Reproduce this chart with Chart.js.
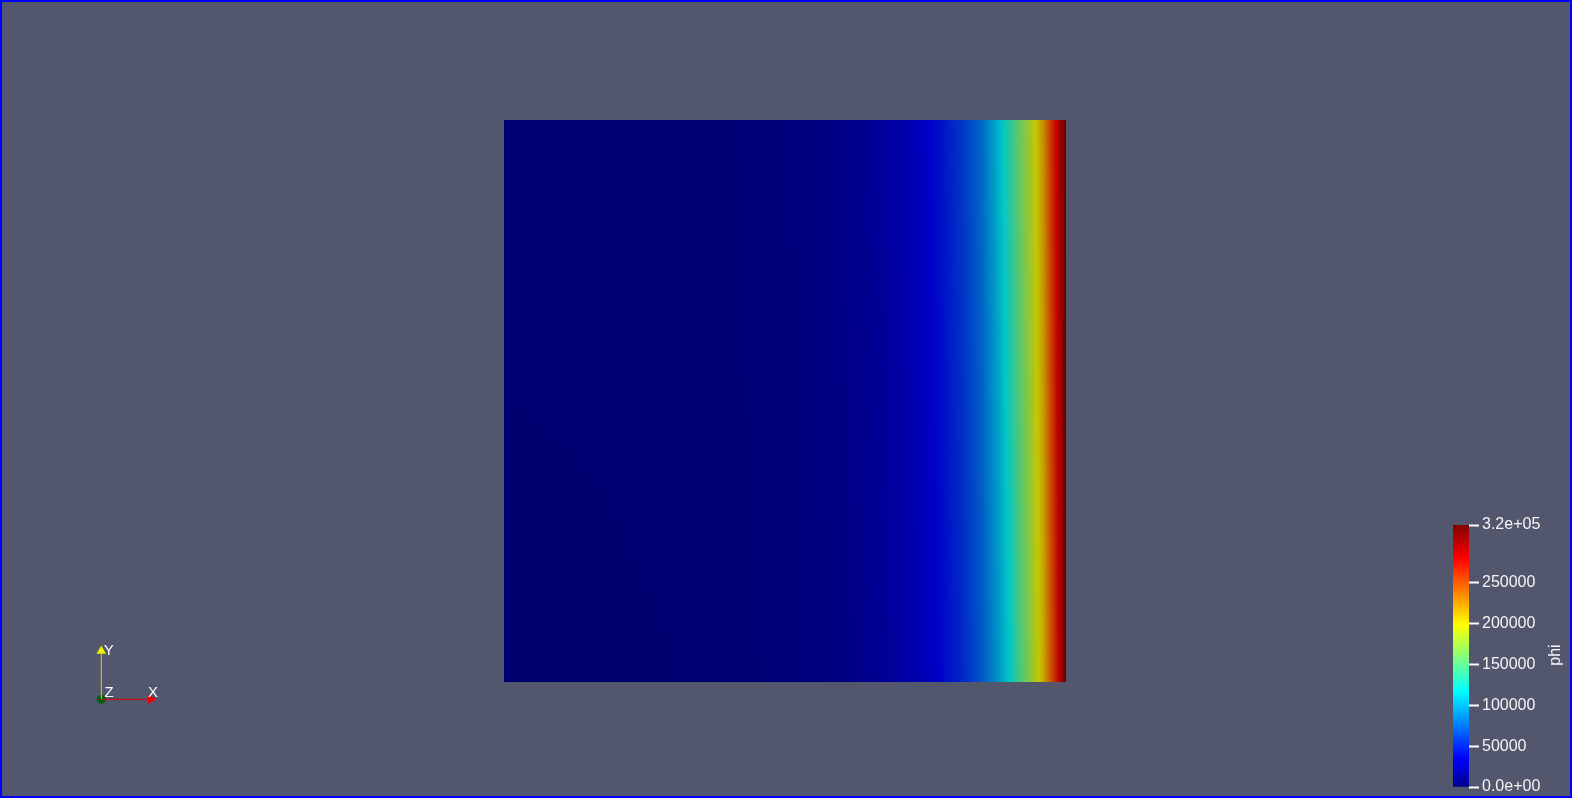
<!DOCTYPE html>
<html><head><meta charset="utf-8">
<script src="https://cdn.jsdelivr.net/npm/chart.js@4.4.1/dist/chart.umd.min.js"></script>
<style>
html,body{margin:0;padding:0;background:#ffffff;width:1574px;height:800px;overflow:hidden}
#view{position:absolute;left:0;top:0;width:1572px;height:798px;box-sizing:border-box;border:2px solid #0000ff;background:#52576e}
canvas{position:absolute}
#field{left:504px;top:120px}
#bar{left:1440px;top:500px}
#triad{left:80px;top:630px}
</style></head><body>
<div id="view"></div>
<canvas id="field" width="562" height="562"></canvas>
<canvas id="bar" width="132" height="300"></canvas>
<canvas id="triad" width="100" height="80"></canvas>
<script>
// ---- data ----
const xSamples  = [0, 0.1, 0.2, 0.3, 0.4, 0.5, 0.55, 0.6, 0.65, 0.7, 0.74, 0.78, 0.82, 0.85, 0.88, 0.9, 0.92, 0.94, 0.96, 0.98, 1.0];
const phiTop    = [1300, 1400, 1500, 1700, 2300, 4200, 6400, 9700, 14700, 22300, 31200, 43500, 60500, 78500, 109000, 134000, 163000, 188000, 224000, 275000, 321000];
const phiBottom = [0, 100, 300, 600, 1300, 3200, 5000, 7800, 12100, 18800, 26900, 38200, 54000, 71000, 96400, 118000, 149000, 178000, 212000, 262000, 321000];
const phiMin = 0;
const phiMax = 321000;
const barTicks = [0, 50000, 100000, 150000, 200000, 250000, 321000];
const fieldName = 'phi';
const triadLabels = ['X', 'Y', 'Z'];

// ---- colormap (ParaView "Jet") ----
const jetT = [0, 0.111111, 0.365079, 0.492063, 0.619048, 0.873016, 1];
const jetC = [[0,0,0.5625],[0,0,1],[0,1,1],[0.5,1,0.5],[1,1,0],[1,0,0],[0.5,0,0]];
const SHADE = 0.78;
function jet(t, k) {
  t = Math.max(0, Math.min(1, t));
  let i = 0;
  while (i < jetT.length - 2 && t > jetT[i + 1]) i++;
  const f = (t - jetT[i]) / (jetT[i + 1] - jetT[i]);
  const c = jetC[i].map((v, j) => (v + (jetC[i + 1][j] - v) * f) * 255 * k);
  return 'rgb(' + c.map(v => Math.round(v)).join(',') + ')';
}
function sci(v) {
  if (v === 0) return '0.0e+00';
  const e = Math.floor(Math.log10(Math.abs(v)));
  const m = v / Math.pow(10, e);
  return m.toFixed(1) + 'e' + (e < 0 ? '-' : '+') + String(Math.abs(e)).padStart(2, '0');
}
Chart.defaults.font.family = 'Liberation Sans, Arial, sans-serif';
Chart.defaults.animation = false;

// ---- field ----
const NSTRIPS = 64, SUB = 8;
const strips = Array.from({length: NSTRIPS}, (_, i) => i);
new Chart(document.getElementById('field'), {
  type: 'bar',
  data: {
    labels: strips,
    datasets: [{
      data: strips.map(() => [xSamples[0], xSamples[xSamples.length - 1]]),
      barPercentage: 1.1, categoryPercentage: 1, borderWidth: 0, clip: 0,
      backgroundColor: (ctx) => {
        const chart = ctx.chart;
        if (!chart.chartArea || ctx.dataIndex === undefined) return '#000070';
        const xs = chart.scales.x;
        const p0 = xs.getPixelForValue(xSamples[0]);
        const p1 = xs.getPixelForValue(xSamples[xSamples.length - 1]);
        const g = chart.ctx.createLinearGradient(p0, 0, p1, 0);
        const t = (ctx.dataIndex + 0.5) / NSTRIPS;
        const phi = phiTop.map((v, j) => v * (1 - t) + phiBottom[j] * t);
        for (let j = 0; j < xSamples.length - 1; j++) {
          for (let s = 0; s < SUB; s++) {
            const f = s / SUB;
            const x = xSamples[j] + (xSamples[j + 1] - xSamples[j]) * f;
            const v = phi[j] + (phi[j + 1] - phi[j]) * f;
            const off = (xs.getPixelForValue(x) - p0) / (p1 - p0);
            g.addColorStop(Math.max(0, Math.min(1, off)), jet((v - phiMin) / (phiMax - phiMin), SHADE));
          }
        }
        g.addColorStop(1, jet((phi[phi.length - 1] - phiMin) / (phiMax - phiMin), SHADE));
        return g;
      }
    }]
  },
  options: {
    indexAxis: 'y', responsive: false, animation: false,
    layout: {padding: 0, autoPadding: false},
    plugins: {legend: {display: false}, tooltip: {enabled: false}},
    scales: {
      x: {type: 'linear', display: false, min: xSamples[0], max: xSamples[xSamples.length - 1]},
      y: {type: 'category', display: false}
    }
  }
});

// ---- colour bar ----
new Chart(document.getElementById('bar'), {
  type: 'bar',
  data: {
    labels: [fieldName],
    datasets: [{
      data: [[phiMin, phiMax]], barPercentage: 1, categoryPercentage: 1, borderWidth: 0,
      backgroundColor: (ctx) => {
        const chart = ctx.chart;
        if (!chart.chartArea) return '#0000ff';
        const ys = chart.scales.y;
        const g = chart.ctx.createLinearGradient(0, ys.getPixelForValue(phiMin), 0, ys.getPixelForValue(phiMax));
        jetT.forEach(t => g.addColorStop(t, jet(t, 1)));
        return g;
      }
    }]
  },
  options: {
    responsive: false, animation: false,
    layout: {padding: {left: 13, right: 0, top: 25, bottom: 13}, autoPadding: false},
    plugins: {legend: {display: false}, tooltip: {enabled: false}},
    scales: {
      x: {display: false},
      y: {
        position: 'right', min: phiMin, max: phiMax,
        afterBuildTicks: (s) => { s.ticks = barTicks.map(v => ({value: v})); },
        afterFit: (s) => { s.width = 103; },
        grid: {drawOnChartArea: false, drawTicks: true, tickLength: 10, tickColor: '#ffffff', tickWidth: 2, color: '#ffffff'},
        border: {display: false},
        ticks: {autoSkip: false, padding: 3, color: '#f4f4f4', font: {size: 16},
          callback: (v) => (v === phiMin || v === phiMax) ? sci(v) : String(v)}
      }
    }
  },
  plugins: [{
    id: 'barTitle',
    afterDraw(chart) {
      const c = chart.ctx;
      c.save();
      c.translate(116, 155);
      c.rotate(-Math.PI / 2);
      c.fillStyle = '#f4f4f4';
      c.font = '16px Liberation Sans, Arial, sans-serif';
      c.textAlign = 'center';
      c.textBaseline = 'middle';
      c.fillText(fieldName, 0, 0);
      c.restore();
    }
  }]
});

// ---- orientation axes ----
new Chart(document.getElementById('triad'), {
  type: 'scatter',
  data: {
    datasets: [
      {data: [{x: 0, y: 0}, {x: 1, y: 0}], showLine: true, borderColor: '#e00000', borderWidth: 1,
       pointStyle: 'triangle', rotation: 90, pointRadius: [0, 5.5], pointBackgroundColor: '#ee0000', pointBorderWidth: 0},
      {data: [{x: 0, y: 0}, {x: 0, y: 1}], showLine: true, borderColor: '#d8d800', borderWidth: 1,
       pointStyle: 'triangle', rotation: 0, pointRadius: [0, 5.5], pointBackgroundColor: '#eeee00', pointBorderWidth: 0},
      {data: [{x: 0, y: 0}], pointStyle: 'circle', pointRadius: 4.5, pointBackgroundColor: '#0c5c10', pointBorderWidth: 0}
    ]
  },
  options: {
    responsive: false, animation: false,
    layout: {padding: 0, autoPadding: false},
    plugins: {legend: {display: false}, tooltip: {enabled: false}},
    scales: {
      x: {type: 'linear', display: false, min: -0.4286, max: 1.5835},
      y: {type: 'linear', display: false, min: -0.2215, max: 1.4348}
    }
  },
  plugins: [{
    id: 'triadLabels',
    afterDatasetsDraw(chart) {
      const c = chart.ctx, xs = chart.scales.x, ys = chart.scales.y;
      c.save();
      c.fillStyle = '#ffffff';
      c.font = '15px Liberation Sans, Arial, sans-serif';
      c.textBaseline = 'middle';
      c.textAlign = 'center';
      c.fillText(triadLabels[0], xs.getPixelForValue(1) + 2, ys.getPixelForValue(0) - 6.3);
      c.textAlign = 'left';
      c.fillText(triadLabels[1], xs.getPixelForValue(0) + 2.5, ys.getPixelForValue(1) - 0.5);
      c.textAlign = 'center';
      c.fillText(triadLabels[2], xs.getPixelForValue(0) + 7.7, ys.getPixelForValue(0) - 6.8);
      c.restore();
    }
  }]
});
</script>
</body></html>
